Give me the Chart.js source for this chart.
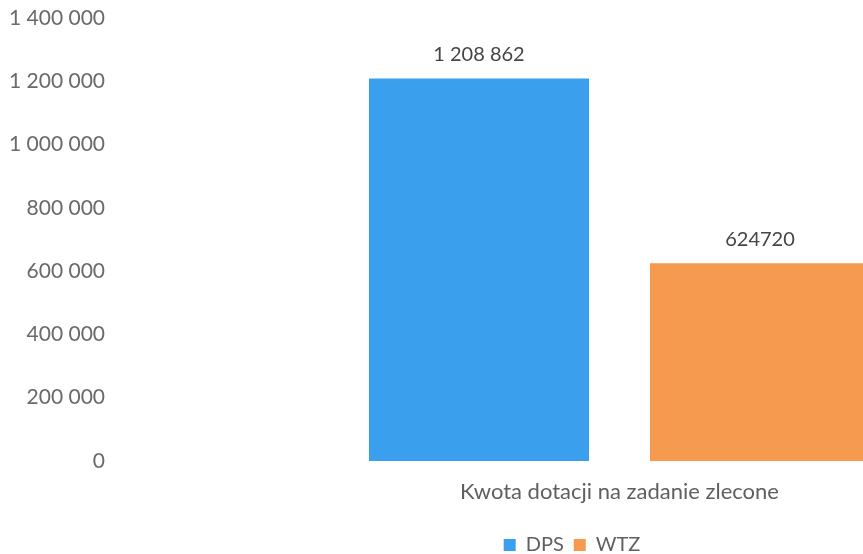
<!DOCTYPE html>
<html>
<head>
<meta charset="utf-8">
<script src="https://cdn.jsdelivr.net/npm/chart.js@4.4.1/dist/chart.umd.min.js"></script>
<style>
  html, body { margin: 0; padding: 0; background: #ffffff; overflow: hidden; width: 863px; height: 554px; }
  #wrap { position: absolute; left: 0; top: 0; width: 1160px; height: 570px; }
</style>
</head>
<body>
<div id="wrap"><canvas id="c" width="1160" height="570"></canvas></div>
<script>
const categories = ['Kwota dotacji na zadanie zlecone'];
const seriesNames = ['DPS', 'WTZ'];
const dpsValues = [1208862];
const wtzValues = [624720];
const valueLabels = ['1 208 862', '624720'];
const yTickValues = [0, 200000, 400000, 600000, 800000, 1000000, 1200000, 1400000];
const yTickLabels = ['0', '200 000', '400 000', '600 000', '800 000', '1 000 000', '1 200 000', '1 400 000'];
const seriesColors = ['#3AA0EE', '#F59A4E'];

const FONT = 'Lato, "Open Sans", sans-serif';

const valueLabelPlugin = {
  id: 'valueLabels',
  afterDatasetsDraw(chart) {
    const ctx = chart.ctx;
    ctx.save();
    ctx.font = '20px ' + FONT;
    ctx.fillStyle = '#454545';
    ctx.textAlign = 'center';
    ctx.textBaseline = 'middle';
    chart.data.datasets.forEach((ds, i) => {
      const meta = chart.getDatasetMeta(i);
      meta.data.forEach((bar) => {
        ctx.fillText(valueLabels[i], bar.x, bar.y - 24);
      });
    });
    ctx.restore();
  }
};

new Chart(document.getElementById('c'), {
  type: 'bar',
  data: {
    labels: categories,
    datasets: [
      { label: seriesNames[0], data: dpsValues, backgroundColor: seriesColors[0], categoryPercentage: 0.557, barPercentage: 0.783 },
      { label: seriesNames[1], data: wtzValues, backgroundColor: seriesColors[1], categoryPercentage: 0.557, barPercentage: 0.783 }
    ]
  },
  options: {
    responsive: false,
    devicePixelRatio: 1,
    animation: false,
    layout: { padding: { top: 18, left: 0, right: 16, bottom: 5 } },
    plugins: {
      legend: {
        position: 'bottom',
        labels: {
          boxWidth: 12, boxHeight: 12, padding: 10,
          color: '#5f5f5f',
          font: { family: FONT, size: 20 }
        }
      },
      tooltip: { enabled: false }
    },
    scales: {
      x: {
        grid: { display: false },
        border: { display: false },
        ticks: { color: '#5f5f5f', font: { family: FONT, size: 22 }, padding: 10 },
        afterFit(s) { s.height = 64; }
      },
      y: {
        min: 0, max: 1400000,
        grid: { display: false },
        border: { display: false },
        afterBuildTicks(s) { s.ticks = yTickValues.map(v => ({ value: v })); },
        afterFit(s) { s.width = 115; },
        ticks: {
          color: '#6a6a6a',
          font: { family: FONT, size: 21 },
          padding: 2,
          callback(v) { const i = yTickValues.indexOf(v); return i >= 0 ? yTickLabels[i] : ''; }
        }
      },
      yRight: {
        position: 'right',
        min: 0, max: 1400000,
        grid: { display: false },
        border: { display: false },
        ticks: { display: false },
        afterFit(s) { s.width = 20; }
      }
    }
  },
  plugins: [valueLabelPlugin]
});
</script>
</body>
</html>
